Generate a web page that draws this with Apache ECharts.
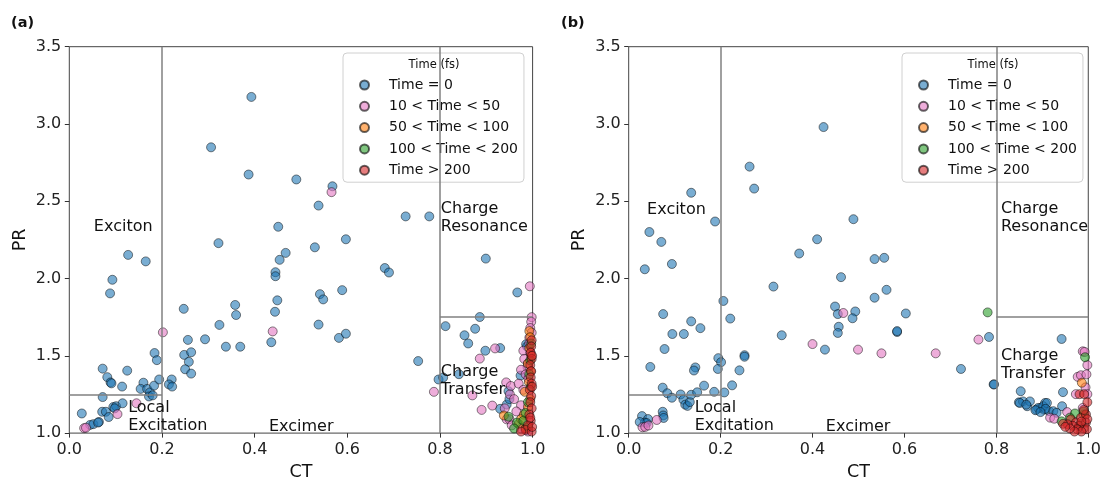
<!DOCTYPE html>
<html>
<head>
<meta charset="utf-8">
<script src="https://cdn.jsdelivr.net/npm/echarts@6/dist/echarts.min.js"></script>
<style>html,body{margin:0;padding:0;background:#fff;}#chart{width:1104px;height:486px;}</style>
</head>
<body>
<div id="chart"></div>
<script>
// ---------- data ----------
const seriesNames = ['Time = 0', '10 < Time < 50', '50 < Time < 100', '100 < Time < 200', 'Time > 200'];
const xTickLabels = ['0.0', '0.2', '0.4', '0.6', '0.8', '1.0'];
const yTickLabels = ['1.0', '1.5', '2.0', '2.5', '3.0', '3.5'];

// Panel (a)
const timeZeroA = [
  [0.393,3.175],[0.306,2.849],[0.387,2.673],[0.490,2.641],[0.568,2.597],[0.538,2.472],[0.726,2.402],[0.777,2.402],
  [0.451,2.335],[0.322,2.229],[0.597,2.254],[0.530,2.202],[0.467,2.166],[0.454,2.121],[0.445,2.041],[0.445,2.015],
  [0.681,2.068],[0.690,2.039],[0.589,1.925],[0.541,1.899],[0.548,1.865],[0.449,1.859],[0.444,1.785],[0.538,1.702],
  [0.436,1.588],[0.582,1.616],[0.597,1.643],[0.358,1.829],[0.360,1.764],[0.247,1.804],[0.324,1.700],[0.293,1.607],
  [0.338,1.559],[0.369,1.559],[0.256,1.603],[0.248,1.506],[0.263,1.523],[0.258,1.461],[0.250,1.413],[0.263,1.385],
  [0.221,1.347],[0.215,1.315],[0.222,1.301],[0.753,1.466],[0.812,1.692],[0.797,1.347],[0.807,1.360],
  [0.127,2.153],[0.165,2.111],[0.093,1.992],[0.088,1.904],[0.072,1.417],[0.082,1.362],[0.089,1.328],[0.091,1.322],
  [0.125,1.404],[0.114,1.301],[0.072,1.233],[0.027,1.127],[0.045,1.053],[0.052,1.058],[0.064,1.072],[0.062,1.068],
  [0.071,1.138],[0.079,1.138],[0.085,1.104],[0.095,1.169],[0.101,1.174],[0.098,1.160],[0.115,1.193],[0.160,1.326],
  [0.154,1.286],[0.168,1.286],[0.174,1.263],[0.172,1.237],[0.180,1.244],[0.183,1.307],[0.194,1.347],[0.184,1.518],
  [0.189,1.472],
  [0.899,2.129],[0.967,1.910],[0.886,1.751],[0.876,1.675],[0.853,1.633],[0.861,1.580],[0.898,1.533],[0.930,1.550],
  [0.841,1.381],[0.930,1.157],[0.944,1.184],[0.950,1.220],[0.948,1.271],[0.974,1.372],[0.986,1.575],[0.988,1.560]
];
const pinkA = [
  [0.566,2.559],[0.439,1.658],[0.202,1.652],[0.787,1.267],[0.032,1.032],[0.036,1.035],[0.104,1.123],[0.145,1.193],
  [0.994,1.950],[0.919,1.548],[0.886,1.482],[0.870,1.244],[0.890,1.150],[0.913,1.178],[0.943,1.328],[0.953,1.305],
  [0.951,1.250],[0.944,1.089],[0.940,1.160],
  [0.998,1.750],[0.997,1.720],[0.995,1.680],[0.998,1.650],[0.993,1.618],[0.993,1.580],[0.980,1.533],[0.995,1.520],
  [0.982,1.480],[0.990,1.450],[0.989,1.428],[0.975,1.410],[0.985,1.380],[0.991,1.353],[0.970,1.320],[0.980,1.280],
  [0.960,1.220],[0.975,1.180],[0.965,1.140],[0.950,1.090],[0.955,1.050],[0.975,1.030],[0.990,1.010]
];
const orangeA = [
  [0.938,1.114],[0.983,1.267],[0.981,1.119],[0.993,1.660],[0.995,1.620],[0.993,1.550],[0.997,1.500],[0.990,1.450],
  [0.996,1.400],[0.992,1.330],[0.995,1.220],[0.990,1.170],[0.970,1.060],[0.985,1.030],[0.975,1.090]
];
const greenA = [
  [0.948,1.106],[0.966,1.068],[0.997,1.580],[0.995,1.470],[0.993,1.380],[0.996,1.300],[0.990,1.200],[0.980,1.080],
  [0.990,1.040],[0.960,1.030],[0.985,1.130]
];
const redA = [
  [0.998,1.600],[0.997,1.560],[0.996,1.520],[0.998,1.480],[0.995,1.440],[0.997,1.400],[0.996,1.360],[0.998,1.320],
  [0.994,1.280],[0.997,1.240],[0.995,1.200],[0.998,1.160],[0.993,1.120],[0.996,1.080],[0.990,1.050],[0.985,1.020],
  [0.998,1.010],[0.975,1.010],[0.995,1.100],[0.999,1.040],[0.999,1.500],[0.999,1.300]
];

// Panel (b)
const timeZeroB = [
  [0.424,2.980],[0.263,2.724],[0.273,2.582],[0.188,2.369],[0.489,2.384],[0.410,2.254],[0.371,2.162],[0.535,2.126],
  [0.556,2.134],[0.462,2.009],[0.315,1.948],[0.561,1.927],[0.535,1.876],[0.206,1.855],[0.449,1.819],[0.455,1.770],
  [0.493,1.787],[0.487,1.743],[0.603,1.774],[0.221,1.741],[0.457,1.688],[0.455,1.648],[0.584,1.654],[0.584,1.660],
  [0.333,1.633],[0.427,1.540],[0.784,1.622],[0.723,1.415],[0.794,1.315],[0.795,1.315],[0.252,1.504],[0.252,1.494],
  [0.241,1.406],[0.225,1.309],[0.208,1.263],[0.186,1.267],[0.195,1.485],[0.201,1.459],[0.194,1.415],
  [0.136,2.555],[0.045,2.301],[0.071,2.237],[0.035,2.060],[0.094,2.094],[0.075,1.770],[0.136,1.723],[0.156,1.679],
  [0.095,1.641],[0.120,1.641],[0.078,1.544],[0.047,1.428],[0.145,1.425],[0.142,1.405],[0.074,1.294],[0.084,1.258],
  [0.094,1.229],[0.113,1.250],[0.119,1.216],[0.123,1.184],[0.128,1.176],[0.133,1.201],[0.136,1.248],[0.149,1.264],
  [0.164,1.307],[0.029,1.110],[0.042,1.091],[0.035,1.068],[0.039,1.065],[0.074,1.138],[0.075,1.114],[0.076,1.098],
  [0.024,1.072],
  [0.942,1.609],[0.853,1.271],[0.945,1.265],[0.849,1.199],[0.858,1.205],[0.867,1.174],[0.873,1.205],[0.887,1.152],
  [0.896,1.163],[0.904,1.152],[0.906,1.195],[0.915,1.142],[0.943,1.174],[0.851,1.195],[0.865,1.184],[0.891,1.163],
  [0.902,1.174],[0.910,1.195],[0.907,1.157],[0.885,1.148],[0.896,1.136],[0.924,1.142],[0.931,1.131]
];
const pinkB = [
  [0.467,1.777],[0.400,1.576],[0.499,1.540],[0.550,1.516],[0.668,1.516],[0.761,1.605],[0.030,1.038],[0.036,1.040],
  [0.043,1.049],[0.061,1.085],[0.988,1.529],[0.992,1.525],[0.977,1.364],[0.984,1.374],[0.994,1.296],[0.973,1.252],
  [0.998,1.252],[0.988,1.163],[0.954,1.136],[0.917,1.100],[0.926,1.093],[0.998,1.440],[0.996,1.380]
];
const orangeB = [[0.986,1.326],[0.990,1.120]];
const greenB = [[0.781,1.781],[0.993,1.491],[0.971,1.127],[0.942,1.076],[0.960,1.100],[0.990,1.140],[0.985,1.060]];
const redB = [
  [0.981,1.252],[0.991,1.252],[0.962,1.089],[0.973,1.068],[0.984,1.100],[0.995,1.121],[0.980,1.047],[0.990,1.030],
  [0.995,1.068],[0.966,1.047],[0.955,1.057],[0.997,1.025],[0.976,1.025],[0.985,1.010],[0.998,1.090],[0.970,1.010],
  [0.945,1.060],[0.960,1.030],[0.990,1.150],[0.998,1.200],[0.950,1.040],[0.985,1.075]
];

// Region boundary lines (data coords)
const regionLines = [
  [[0.2, 1.0], [0.2, 3.5]],
  [[0.8, 1.0], [0.8, 3.5]],
  [[0.0, 1.25], [0.2, 1.25]],
  [[0.8, 1.75], [1.0, 1.75]]
];
// Region label anchors (left-middle of text block)
const regionLabelsA = [
  ['Exciton', 0.053, 2.337], ['Charge\nResonance', 0.802, 2.394], ['Local\nExcitation', 0.127, 1.106],
  ['Excimer', 0.431, 1.043], ['Charge\nTransfer', 0.802, 1.341]
];
const regionLabelsB = [
  ['Exciton', 0.040, 2.444], ['Charge\nResonance', 0.810, 2.394], ['Local\nExcitation', 0.1435, 1.106],
  ['Excimer', 0.429, 1.043], ['Charge\nTransfer', 0.810, 1.442]
];

// ---------- styling ----------
const FONT = 'DejaVu Sans';
const colors = ['rgba(31,119,180,0.6)', 'rgba(227,119,194,0.6)', 'rgba(255,127,14,0.6)', 'rgba(44,160,44,0.6)', 'rgba(214,39,40,0.6)'];
const edge = 'rgba(0,0,0,0.6)';

function panelSeries(idx, sets, labels) {
  const out = [];
  out.push({
    type: 'scatter', xAxisIndex: idx, yAxisIndex: idx, data: [], silent: true,
    markLine: {
      silent: true, symbol: 'none', animation: false,
      label: { show: false },
      lineStyle: { color: '#808080', width: 1.5, type: 'solid', opacity: 1 },
      data: regionLines.map(l => [{ coord: l[0] }, { coord: l[1] }])
    }
  });
  sets.forEach((d, i) => {
    out.push({
      name: seriesNames[i], type: 'scatter', xAxisIndex: idx, yAxisIndex: idx,
      data: d, symbol: 'circle', symbolSize: 9, z: 3 + i,
      itemStyle: { color: colors[i], borderColor: edge, borderWidth: 0.8, opacity: 1 }
    });
  });
  out.push({
    type: 'scatter', xAxisIndex: idx, yAxisIndex: idx, symbolSize: 0, silent: true, z: 20,
    itemStyle: { opacity: 1 },
    data: labels.map(l => ({ name: l[0], value: [l[1], l[2]] })),
    label: {
      show: true, position: 'right', distance: 0, formatter: '{b}', opacity: 1,
      fontFamily: FONT, fontSize: 16, color: '#111', lineHeight: 18
    }
  });
  return out;
}

function xAxis(idx) {
  return {
    type: 'value', gridIndex: idx, min: 0, max: 1, interval: 0.2,
    name: 'CT', nameLocation: 'middle', nameGap: 28,
    nameTextStyle: { fontFamily: FONT, fontSize: 17.5, color: '#111' },
    axisLine: { show: false },
    axisTick: { show: true, length: 4.5, lineStyle: { color: '#333', width: 1 } },
    axisLabel: { margin: 9, fontFamily: FONT, fontSize: 16, color: '#222',
      formatter: v => xTickLabels[Math.round(v / 0.2)] },
    splitLine: { show: false }
  };
}
function yAxis(idx) {
  return {
    type: 'value', gridIndex: idx, min: 1, max: 3.5, interval: 0.5,
    name: 'PR', nameLocation: 'middle', nameGap: 40,
    nameTextStyle: { fontFamily: FONT, fontSize: 17.5, color: '#111' },
    axisLine: { show: false },
    axisTick: { show: true, length: 4.5, lineStyle: { color: '#333', width: 1 } },
    axisLabel: { margin: 8, fontFamily: FONT, fontSize: 16, color: '#222',
      formatter: v => yTickLabels[Math.round((v - 1) / 0.5)] },
    splitLine: { show: false }
  };
}
function legend(left) {
  return {
    data: seriesNames, orient: 'vertical', left: left, top: 53,
    icon: 'circle', itemWidth: 9, itemHeight: 9, itemGap: 7.3,
    padding: [25, 6, 5, 16],
    backgroundColor: 'rgba(255,255,255,0.8)', borderColor: '#d0d0d0', borderWidth: 1, borderRadius: 4,
    textStyle: { fontFamily: FONT, fontSize: 14, color: '#111', padding: [0, 0, 0, 15] },
    selectedMode: false
  };
}

const chart = echarts.init(document.getElementById('chart'), null, { renderer: 'canvas' });
chart.setOption({
  animation: false,
  backgroundColor: '#fff',
  grid: [
    { left: 69.3, top: 46.7, width: 463.3, height: 394, show: true, borderColor: '#444', borderWidth: 1, backgroundColor: 'transparent' },
    { left: 628.7, top: 46.7, width: 462, height: 394, show: true, borderColor: '#444', borderWidth: 1, backgroundColor: 'transparent' }
  ],
  xAxis: [xAxis(0), xAxis(1)],
  yAxis: [yAxis(0), yAxis(1)],
  legend: [legend(343), legend(902)],
  graphic: [
    { type: 'text', left: 11, top: 16, z: 100, style: { text: '(a)', font: 'bold 14.5px "DejaVu Sans"', fill: '#111' } },
    { type: 'text', left: 561, top: 16, z: 100, style: { text: '(b)', font: 'bold 14.5px "DejaVu Sans"', fill: '#111' } },
    { type: 'text', x: 434, y: 59, z: 100, style: { text: 'Time (fs)', font: '11.5px "DejaVu Sans"', fill: '#111', textAlign: 'center' } },
    { type: 'text', x: 993, y: 59, z: 100, style: { text: 'Time (fs)', font: '11.5px "DejaVu Sans"', fill: '#111', textAlign: 'center' } }
  ],
  series: [].concat(
    panelSeries(0, [timeZeroA, pinkA, orangeA, greenA, redA], regionLabelsA),
    panelSeries(1, [timeZeroB, pinkB, orangeB, greenB, redB], regionLabelsB)
  )
});
</script>
</body>
</html>
